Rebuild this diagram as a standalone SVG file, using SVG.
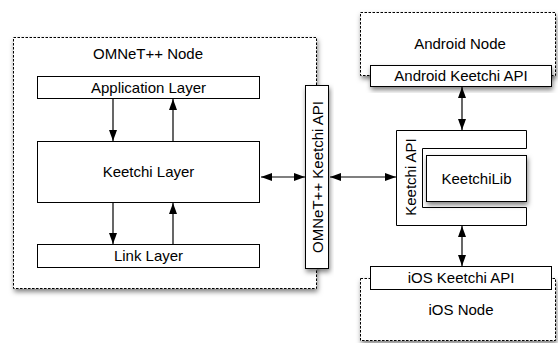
<svg xmlns="http://www.w3.org/2000/svg" width="558" height="343" viewBox="0 0 558 343">
  <defs>
    <filter id="sh" x="-20%" y="-20%" width="140%" height="150%">
      <feDropShadow dx="1" dy="3" stdDeviation="2.5" flood-color="#000" flood-opacity="0.5"/>
    </filter>
    <marker id="ah" markerUnits="userSpaceOnUse" markerWidth="11" markerHeight="8" refX="11" refY="4" orient="auto-start-reverse" viewBox="0 0 11 8">
      <path d="M0,0 L11,4 L0,8 z" fill="#000"/>
    </marker>
  </defs>
  <style>
    .dash { fill: #fff; stroke: #000; stroke-width: 1; stroke-dasharray: 2.5 1.5; }
    .box { fill: #fff; stroke: #000; stroke-width: 1; }
    .t { font-family: "Liberation Sans", Arial, Helvetica, sans-serif; font-size: 15px; fill: #000; text-anchor: middle; }
    .c { fill: none; stroke: #000; stroke-width: 1.2; }
  </style>
  <rect width="558" height="343" fill="#fff"/>

  <g id="omnet-node">
    <rect class="dash" x="13.5" y="37.5" width="303" height="251" filter="url(#sh)"/>
    <text class="t" x="148" y="59">OMNeT++ Node</text>
  </g>
  <g id="application-layer">
    <rect class="box" x="37.5" y="76.5" width="222" height="22"/>
    <text class="t" x="148.5" y="93">Application Layer</text>
  </g>
  <g id="keetchi-layer">
    <rect class="box" x="37.5" y="141.5" width="222" height="61"/>
    <text class="t" x="148.5" y="177">Keetchi Layer</text>
  </g>
  <g id="link-layer">
    <rect class="box" x="37.5" y="244.5" width="222" height="23"/>
    <text class="t" x="148.5" y="261">Link Layer</text>
  </g>
  <g id="omnet-keetchi-api">
    <rect class="box" x="305.5" y="85.5" width="23" height="183" filter="url(#sh)"/>
    <text class="t" transform="translate(322.5,177) rotate(-90)">OMNeT++ Keetchi API</text>
  </g>

  <g id="android-node">
    <rect class="dash" x="360.5" y="12.5" width="195" height="63" filter="url(#sh)"/>
    <text class="t" x="460" y="49">Android Node</text>
  </g>
  <g id="android-keetchi-api">
    <rect class="box" x="370.5" y="65.5" width="181" height="21" filter="url(#sh)"/>
    <text class="t" x="461" y="81">Android Keetchi API</text>
  </g>

  <g id="keetchi-api">
    <path class="box" d="M396.5,130.5 H526.5 V148.5 H422.5 V207.5 H526.5 V225.5 H396.5 Z"/>
    <text class="t" transform="translate(415.5,177) rotate(-90)">Keetchi API</text>
  </g>
  <g id="keetchilib">
    <rect class="box" x="426.5" y="155.5" width="100" height="46" filter="url(#sh)"/>
    <text class="t" x="476.5" y="184">KeetchiLib</text>
  </g>

  <g id="ios-node">
    <rect class="dash" x="360.5" y="278.5" width="195" height="62" filter="url(#sh)"/>
    <text class="t" x="461" y="315">iOS Node</text>
  </g>
  <g id="ios-keetchi-api">
    <rect class="box" x="370.5" y="266.5" width="181" height="23"/>
    <text class="t" x="461" y="283">iOS Keetchi API</text>
  </g>

  <g id="connectors">
    <line class="c" x1="113" y1="99" x2="113" y2="141" marker-end="url(#ah)"/>
    <line class="c" x1="173" y1="141" x2="173" y2="99" marker-end="url(#ah)"/>
    <line class="c" x1="113" y1="203" x2="113" y2="244" marker-end="url(#ah)"/>
    <line class="c" x1="173" y1="244" x2="173" y2="203" marker-end="url(#ah)"/>
    <line class="c" x1="261" y1="177" x2="305" y2="177" marker-start="url(#ah)" marker-end="url(#ah)"/>
    <line class="c" x1="330" y1="177" x2="396" y2="177" marker-start="url(#ah)" marker-end="url(#ah)"/>
    <line class="c" x1="462" y1="87" x2="462" y2="130" marker-start="url(#ah)" marker-end="url(#ah)"/>
    <line class="c" x1="462" y1="226" x2="462" y2="266" marker-start="url(#ah)" marker-end="url(#ah)"/>
  </g>
</svg>
